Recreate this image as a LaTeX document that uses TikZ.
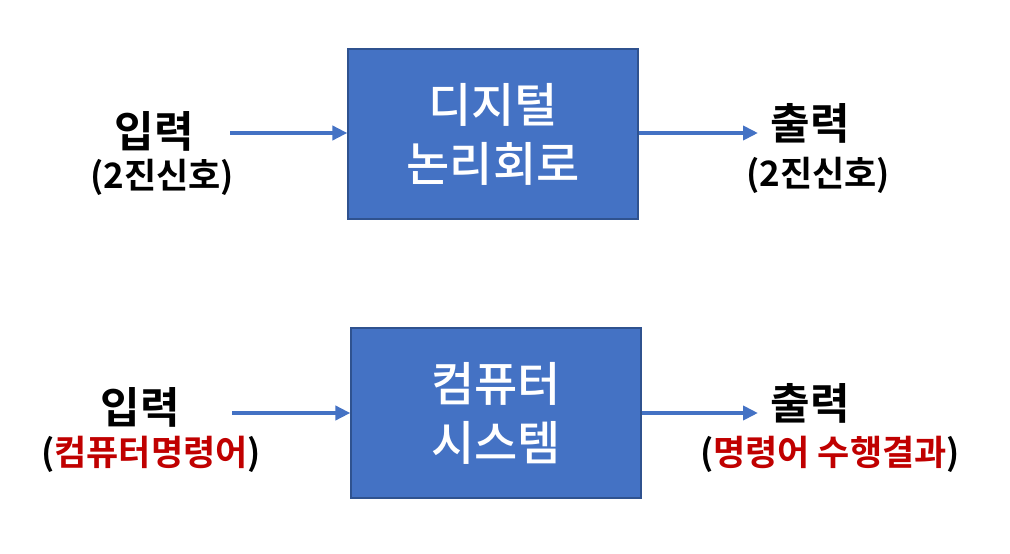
\documentclass[tikz,border=0pt]{standalone}
\usepackage{fontspec}
\usetikzlibrary{arrows.meta}
\setmainfont{Noto Sans CJK KR}[BoldFont={Noto Sans CJK KR Bold}]
\newfontfamily\krfont{Noto Sans CJK KR Medium}
\newfontfamily\krbold{Noto Sans CJK KR Bold}
\definecolor{boxblue}{HTML}{4472C4}
\definecolor{boxedge}{HTML}{2F528F}
\definecolor{darkred}{HTML}{C00000}
\tikzset{
  blk/.style={draw=boxedge, line width=1.2pt, fill=boxblue, minimum width=290pt, minimum height=170pt, inner sep=0pt, text=white, align=center, font=\krfont\fontsize{47}{59}\selectfont},
  biglbl/.style={inner sep=0pt, font=\krbold\fontsize{43}{46}\selectfont},
  smalllbl/.style={inner sep=0pt, font=\krbold\fontsize{35}{38}\selectfont},
  conn/.style={draw=boxblue, line width=4pt, -{Triangle[length=15pt,width=14pt]}}
}
\begin{document}
\begin{tikzpicture}[x=1pt,y=-1pt]
\useasboundingbox (0,0) rectangle (1010,554);
% top row
\node[blk] (b1) at (493,134) {디지털\\논리회로};
\node[biglbl] (in1) at (154,131) {입력};
\node[smalllbl] (in1s) at (162,177) {(2진신호)};
\node[biglbl] (out1) at (810,123) {출력};
\node[smalllbl] (out1s) at (818,175) {(2진신호)};
\coordinate (s1) at (230,133);
\coordinate (e1) at (758,133);
\draw[conn] (s1) -- (s1 -| b1.west);
\draw[conn] (b1.east |- e1) -- (e1);
% bottom row
\node[blk] (b2) at (496,413) {컴퓨터\\시스템};
\node[biglbl] (in2) at (140,407) {입력};
\node[smalllbl] (in2s) at (151,454) {(\textcolor{darkred}{컴퓨터명령어})};
\node[biglbl] (out2) at (810,403) {출력};
\node[smalllbl] (out2s) at (830,454) {(\textcolor{darkred}{명령어 수행결과})};
\coordinate (s2) at (232,413);
\coordinate (e2) at (758,413);
\draw[conn] (s2) -- (s2 -| b2.west);
\draw[conn] (b2.east |- e2) -- (e2);
\end{tikzpicture}
\end{document}
